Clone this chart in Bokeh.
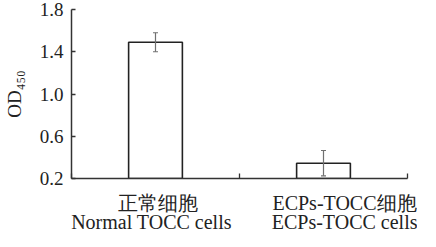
from bokeh.plotting import figure
from bokeh.models import (ColumnDataSource, Whisker, TeeHead, FixedTicker, LinearAxis,
                          Range1d)
from bokeh.embed import file_html
from bokeh.resources import INLINE

# ---- data ----
categories_cn = ["正常细胞", "ECPs-TOCC细胞"]
categories_en = ["Normal TOCC cells", "ECPs-TOCC cells"]
od450 = [1.49, 0.345]
od450_err = [0.09, 0.12]
y_ticks = [0.2, 0.6, 1.0, 1.4, 1.8]
y_tick_labels = ["0.2", "0.6", "1.0", "1.4", "1.8"]
y_title = "OD₄₅₀"

xs = [i + 0.5 for i in range(len(categories_cn))]

src = ColumnDataSource(dict(
    x=xs, top=od450,
    upper=[v + e for v, e in zip(od450, od450_err)],
    lower=[v - e for v, e in zip(od450, od450_err)],
))

SERIF = "Liberation Serif"
INK = "#222222"

FW, FH = 336, 169
p = figure(frame_width=FW, frame_height=FH, output_backend="svg", toolbar_location=None,
           x_range=Range1d(0, len(categories_cn)), y_range=Range1d(y_ticks[0], y_ticks[-1]),
           x_axis_location=None)
p.min_border_left = 67
p.min_border_right = 10
p.min_border_top = 9
p.min_border_bottom = 0
p.outline_line_color = None
p.xgrid.grid_line_color = None
p.ygrid.grid_line_color = None

p.vbar(x="x", top="top", bottom=y_ticks[0], width=0.32, source=src,
       fill_color="white", line_color=INK, line_width=1.6)

wh = Whisker(base="x", upper="upper", lower="lower", source=src, level="overlay",
             line_color="#707070", line_width=1.2,
             upper_head=TeeHead(size=5, line_color="#707070", line_width=1.2),
             lower_head=TeeHead(size=5, line_color="#707070", line_width=1.2))
p.add_layout(wh)

# y axis
yax = p.yaxis[0]
yax.ticker = FixedTicker(ticks=y_ticks)
yax.major_label_overrides = {t: l for t, l in zip(y_ticks, y_tick_labels)}
yax.major_tick_in = 4
yax.major_tick_out = 0
yax.minor_tick_line_color = None
yax.major_label_standoff = 8
yax.major_label_text_font = SERIF
yax.major_label_text_font_size = "19px"
yax.major_label_text_color = INK
yax.axis_line_color = "#333333"
yax.axis_line_width = 1.5
yax.major_tick_line_color = "#333333"
yax.major_tick_line_width = 1.3
yax.axis_label = y_title
yax.axis_label_text_font = SERIF
yax.axis_label_text_font_size = "19px"
yax.axis_label_text_font_style = "normal"
yax.axis_label_text_color = INK
yax.axis_label_standoff = 12

# pixel offsets of the label lines relative to bar centres (layout only)
frame_px_per_unit = FW / len(categories_cn)
cn_offsets_px = [2, 21]
en_offsets_px = [-4, 29]
cn_pos = [x + d / frame_px_per_unit for x, d in zip(xs, cn_offsets_px)]
en_pos = [x + d / frame_px_per_unit for x, d in zip(xs, en_offsets_px)]

# x axis 1: axis line, ticks between categories, Chinese labels
ax1 = LinearAxis(ticker=FixedTicker(ticks=cn_pos, minor_ticks=list(range(len(categories_cn) + 1))))
ax1.major_label_overrides = {t: l for t, l in zip(cn_pos, categories_cn)}
ax1.major_tick_line_color = None
ax1.major_tick_in = 0
ax1.major_tick_out = 0
ax1.minor_tick_in = 5
ax1.minor_tick_out = 0
ax1.minor_tick_line_color = "#333333"
ax1.minor_tick_line_width = 1.3
ax1.axis_line_color = "#333333"
ax1.axis_line_width = 1.5
ax1.major_label_standoff = 13
ax1.major_label_text_font = SERIF
ax1.major_label_text_font_size = "20px"
ax1.major_label_text_color = INK
p.add_layout(ax1, "below")

# x axis 2: English labels only
ax2 = LinearAxis(ticker=FixedTicker(ticks=en_pos, minor_ticks=[]))
ax2.major_label_overrides = {t: l for t, l in zip(en_pos, categories_en)}
ax2.major_tick_line_color = None
ax2.major_tick_in = 0
ax2.major_tick_out = 0
ax2.minor_tick_line_color = None
ax2.axis_line_color = None
ax2.major_label_standoff = -6
ax2.major_label_text_font = SERIF
ax2.major_label_text_font_size = "20px"
ax2.major_label_text_color = INK
p.add_layout(ax2, "below")

open("out.html", "w").write(file_html(p, INLINE))
